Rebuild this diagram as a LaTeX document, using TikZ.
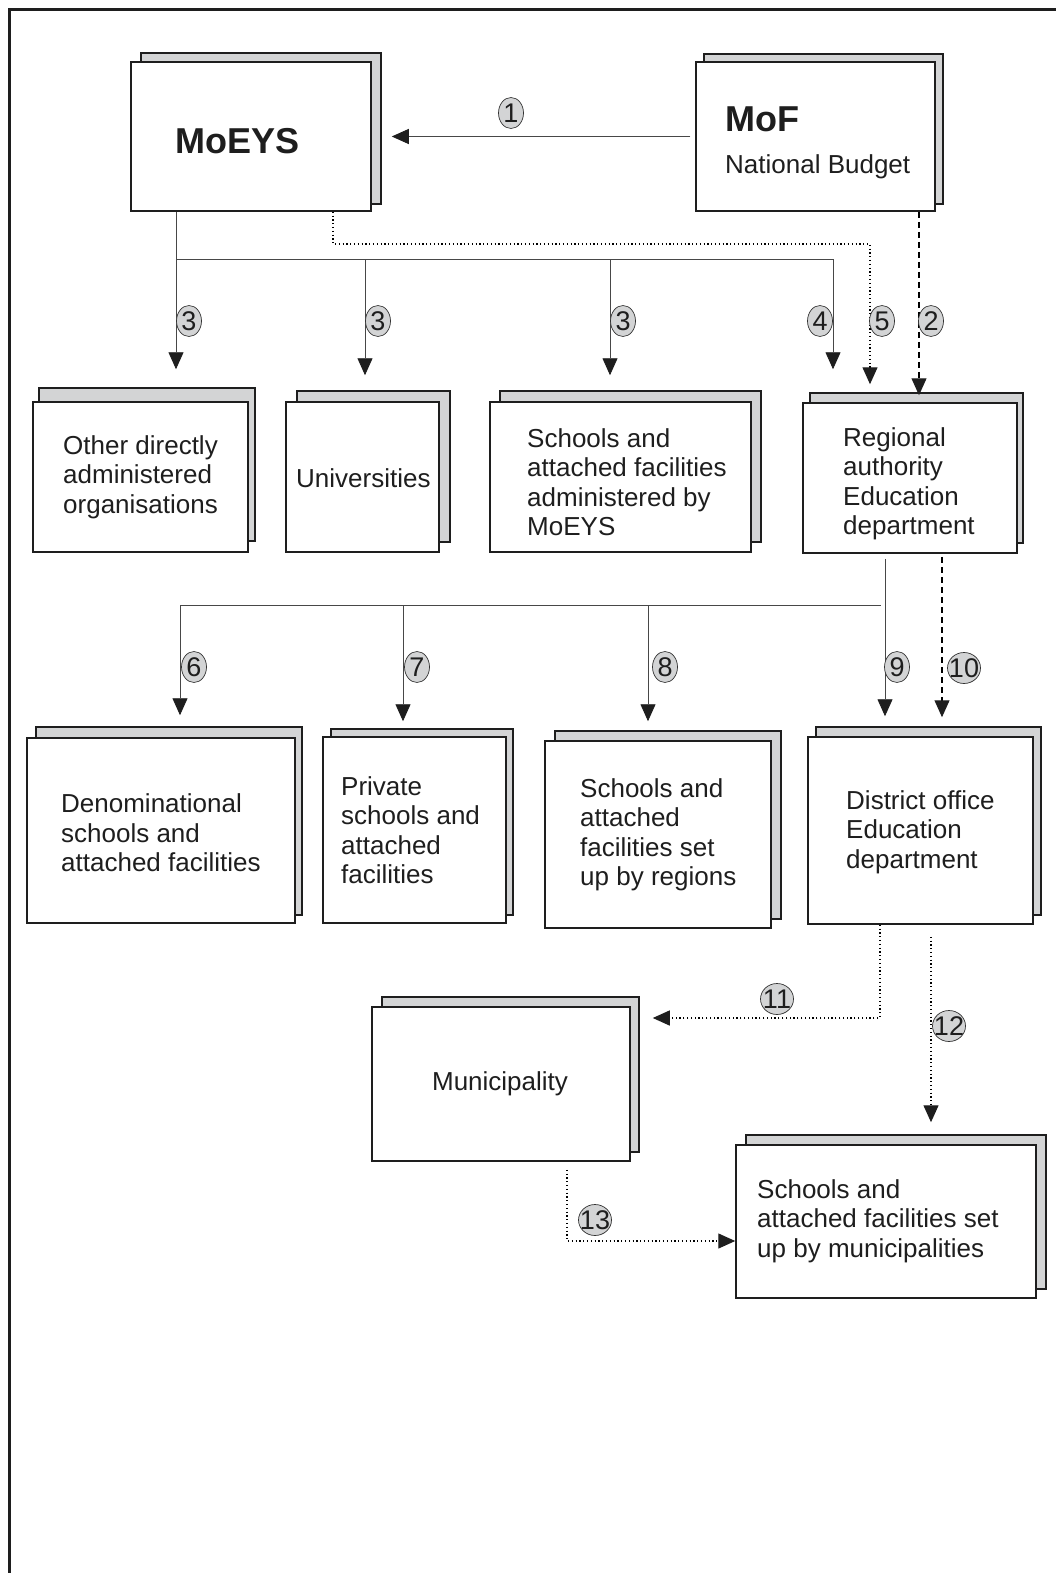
\documentclass[tikz,border=0pt]{standalone}
\usepackage{fontspec}
\setmainfont{Liberation Sans}
\usetikzlibrary{arrows.meta,shapes.geometric,calc}
\definecolor{shadowgray}{HTML}{D3D4D5}
\definecolor{ink}{HTML}{1E1E1E}
\tikzset{
  backbox/.style={draw=ink, fill=shadowgray, line width=1.5pt},
  frontbox/.style={draw=ink, fill=white, line width=1.5pt, rectangle, inner sep=0pt},
  txt/.style={inner sep=0pt, align=left, text=ink, font=\fontsize{26}{29.5}\selectfont},
  bigtxt/.style={inner sep=0pt, text=ink, font=\fontsize{36}{40}\selectfont\bfseries},
  conn/.style={line width=0.9pt, draw=black!72},
  arr/.style={-{Triangle[length=17pt,width=15pt,color=ink]}},
  dotline/.style={line width=1.3pt, draw=black, dash pattern=on 1.2pt off 2.6pt},
  dashline/.style={line width=1.1pt, draw=black, dash pattern=on 6pt off 4pt},
  lbl/.style={ellipse, draw=black!80, line width=0.7pt, fill=shadowgray, inner sep=0pt,
    minimum width=25pt, minimum height=31pt, text=ink, font=\fontsize{27}{28}\selectfont},
  lblw/.style={lbl, minimum width=33pt}
}
\newcommand\mybox[9]{%
  \draw[backbox] (#6,#7) rectangle (#8,#9);
  \node[frontbox, minimum width={(#4-#2)*1pt}, minimum height={(#5-#3)*1pt}]
    (#1) at ({(#2+#4)/2},{(#3+#5)/2}) {};
}
\begin{document}
\begin{tikzpicture}[x=1pt,y=-1pt]
\useasboundingbox (0,0) rectangle (1056,1573);
% outer frame
\draw[ink, line width=3pt] (9,1590) -- (9,10) -- (1070,10);

% boxes
\mybox{moeys}{131}{62}{371}{211}{141}{53}{381}{204}
\mybox{mof}{696}{62}{935}{211}{704}{54}{943}{204}
\mybox{other}{33}{402}{248}{552}{39}{388}{255}{541}
\mybox{univ}{286}{402}{439}{552}{297}{391}{450}{542}
\mybox{schm}{490}{402}{751}{552}{500}{391}{761}{542}
\mybox{regional}{803}{403}{1017}{553}{810}{393}{1023}{543}
\mybox{denom}{27}{738}{295}{923}{36}{727}{302}{915}
\mybox{private}{323}{737}{506}{923}{331}{729}{513}{915}
\mybox{schreg}{545}{741}{771}{928}{555}{731}{781}{919}
\mybox{district}{808}{737}{1033}{924}{816}{727}{1041}{915}
\mybox{muni}{372}{1007}{630}{1161}{382}{997}{639}{1152}
\mybox{munis}{736}{1145}{1036}{1298}{746}{1135}{1046}{1289}

% texts
\node[bigtxt, anchor=west] (t-moeys) at (175,141) {MoEYS};
\node[bigtxt, anchor=west] (t-mof) at (725,119) {MoF};
\node[txt, anchor=west] (t-budget) at (725,167) {National Budget};
\node[txt, anchor=west] (t-other) at (63,477) {Other directly\\administered\\organisations};
\node[txt, anchor=west] (t-univ) at (296,478) {Universities};
\node[txt, anchor=west] (t-schm) at (527,482) {Schools and\\attached facilities\\administered by\\MoEYS};
\node[txt, anchor=west] (t-regional) at (843,484) {Regional\\authority\\Education\\department};
\node[txt, anchor=west] (t-denom) at (61,833) {Denominational\\schools and\\attached facilities};
\node[txt, anchor=west] (t-private) at (341,830) {Private\\schools and\\attached\\facilities};
\node[txt, anchor=west] (t-schreg) at (580,835) {Schools and\\attached\\facilities set\\up by regions};
\node[txt, anchor=west] (t-district) at (846,832) {District office\\Education\\department};
\node[txt] (t-muni) at (500,1084) {Municipality};
\node[txt, anchor=west] (t-munis) at (757,1221) {Schools and\\attached facilities set\\up by municipalities};

% coordinates
\coordinate (j1) at (176,259);
\coordinate (j2) at (365,259);
\coordinate (j3) at (610,259);
\coordinate (j4) at (833,259);
\coordinate (c5a) at (333,244);
\coordinate (c5b) at (870,244);
\coordinate (c2) at (919,300);
\coordinate (h1) at (180,605);
\coordinate (h2) at (403,605);
\coordinate (h3) at (648,605);
\coordinate (c9) at (885,605);
\coordinate (c10) at (942,600);
\coordinate (c11) at (880,1018);
\coordinate (c12) at (931,1000);
\coordinate (c13) at (567,1241);

% connectors
\draw[conn,arr,shorten <=5pt,shorten >=20pt] (mof.west) -- (moeys.east);
\draw[conn,arr,shorten >=32pt] (moeys.south -| j1) -- (other.north -| j1);
\draw[conn] (j1) -- (j4);
\draw[conn,arr,shorten >=26pt] (j2) -- (univ.north -| j2);
\draw[conn,arr,shorten >=26pt] (j3) -- (schm.north -| j3);
\draw[conn,arr,shorten >=33pt] (j4) -- (regional.north -| j4);
\draw[dotline,arr,shorten >=18pt] (moeys.south -| c5a) -- (c5a) -- (c5b) -- (regional.north -| c5b);
\draw[dashline,arr,shorten >=7pt] (mof.south -| c2) -- (regional.north -| c2);

\draw[conn,arr,shorten <=5pt,shorten >=20pt] (regional.south -| c9) -- (district.north -| c9);
\draw[conn] (h1) -- ([xshift=-4pt]c9);
\draw[conn,arr,shorten >=22pt] (h1) -- (denom.north -| h1);
\draw[conn,arr,shorten >=15pt] (h2) -- (private.north -| h2);
\draw[conn,arr,shorten >=19pt] (h3) -- (schreg.north -| h3);
\draw[dashline,arr,shorten <=3pt,shorten >=19pt] (regional.south -| c10) -- (district.north -| c10);

\draw[dotline,arr,shorten >=22pt] (district.south -| c11) -- (c11) -- (muni.east |- c11);
\draw[dotline,arr,shorten <=12pt,shorten >=22pt] (district.south -| c12) -- (munis.north -| c12);
\draw[dotline,arr,shorten <=8pt] (muni.south -| c13) -- (c13) -- (munis.west |- c13);

% number labels
\node[lbl] (l1) at (511,113) {\makebox[0pt]{1}};
\node[lbl] (l2) at (931,321) {\makebox[0pt]{2}};
\node[lbl] (l3a) at (189,321) {\makebox[0pt]{3}};
\node[lbl] (l3b) at (378,321) {\makebox[0pt]{3}};
\node[lbl] (l3c) at (623,321) {\makebox[0pt]{3}};
\node[lbl] (l4) at (820,321) {\makebox[0pt]{4}};
\node[lbl] (l5) at (882,321) {\makebox[0pt]{5}};
\node[lbl] (l6) at (194,667) {\makebox[0pt]{6}};
\node[lbl] (l7) at (417,667) {\makebox[0pt]{7}};
\node[lbl] (l8) at (665,667) {\makebox[0pt]{8}};
\node[lbl] (l9) at (897,667) {\makebox[0pt]{9}};
\node[lblw] (l10) at (964,668) {\makebox[0pt]{10}};
\node[lblw] (l11) at (777,999) {\makebox[0pt]{11}};
\node[lblw] (l12) at (949,1026) {\makebox[0pt]{12}};
\node[lblw] (l13) at (595,1220) {\makebox[0pt]{13}};
\end{tikzpicture}
\end{document}
